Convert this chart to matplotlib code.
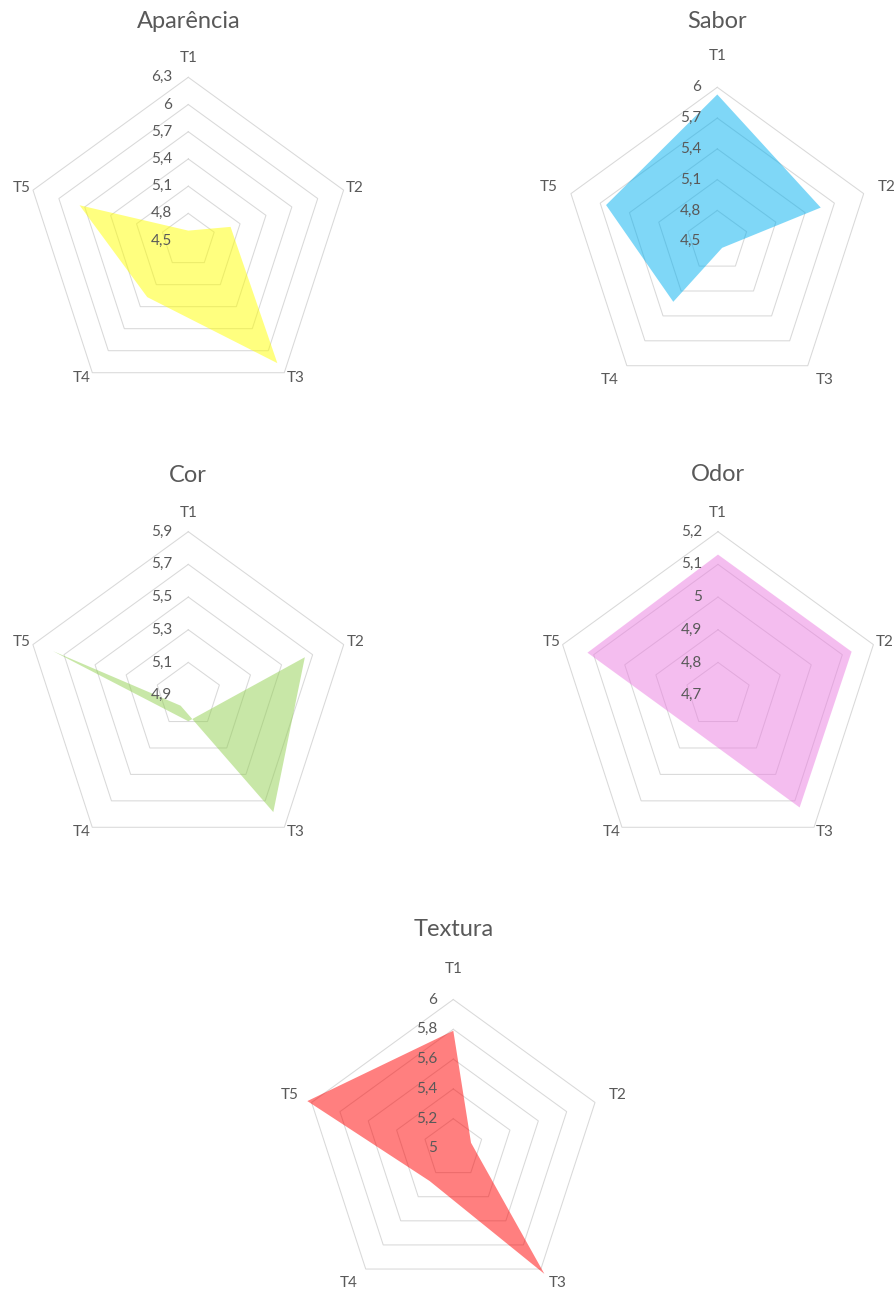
import numpy as np
import matplotlib
matplotlib.use('Agg')
import matplotlib.pyplot as plt

plt.rcParams['font.family'] = ['Lato', 'DejaVu Sans']

# tratamentos avaliados
categorias = ['T1', 'T2', 'T3', 'T4', 'T5']

# médias por atributo
aparencia = [4.61, 4.99, 6.17, 5.27, 5.76]
sabor = [5.93, 5.56, 4.58, 5.23, 5.64]
cor = [4.74, 5.65, 5.785, 4.98, 5.77]
odor = [5.13, 5.13, 5.125, 4.83, 5.12]
textura = [5.79, 5.125, 6.04, 5.27, 6.03]

# escala de cada gráfico: mínimo, máximo, passo
escala_aparencia = (4.5, 6.3, 0.3)
escala_sabor = (4.5, 6.0, 0.3)
escala_cor = (4.9, 5.9, 0.2)
escala_odor = (4.7, 5.2, 0.1)
escala_textura = (5.0, 6.0, 0.2)

W, H = 896, 1295
CINZA = '#595959'

# deslocamento dos rótulos T1..T5 em pixels (perto / longe)
desl_perto = [(0, -19), (11.5, -2.5), (11, 5), (-10.5, 5), (-11, -2.5)]
desl_longe = [(0, -31), (23, -7), (17, 14), (-17, 14), (-22, -7)]


def fmt(v):
    return ('%g' % round(v, 2)).replace('.', ',')


def radar(fig, titulo, valores, escala, cor_fill, cx, cy, R, ty, desl):
    vmin, vmax, passo = escala
    k = 1.35
    ax = fig.add_axes([(cx - R * k) / W, 1 - (cy + R * k) / H,
                       2 * R * k / W, 2 * R * k / H])
    ax.set_xlim(-k, k)
    ax.set_ylim(-k, k)
    ax.axis('off')

    ang = np.deg2rad(90 - 72 * np.arange(len(categorias)))
    fecha = np.r_[ang, ang[0]]
    niveis = np.arange(vmin, vmax + passo / 2, passo)

    # grade pentagonal
    for nv in niveis[1:]:
        r = (nv - vmin) / (vmax - vmin)
        ax.plot(r * np.cos(fecha), r * np.sin(fecha), color='#d9d9d9',
                lw=0.75, zorder=1)

    # área da série
    r = (np.array(valores) - vmin) / (vmax - vmin)
    ax.fill(r * np.cos(ang), r * np.sin(ang), color=cor_fill, alpha=0.5,
            lw=0, zorder=2)

    # rótulos da escala
    for nv in niveis:
        rr = (nv - vmin) / (vmax - vmin)
        ax.annotate(fmt(nv), (0, rr), xytext=(-16 * 0.72, 0),
                    textcoords='offset points', ha='right', va='center',
                    fontsize=11, color=CINZA, zorder=4)

    # rótulos das categorias
    for i, cat in enumerate(categorias):
        dx, dy = desl[i]
        ax.annotate(cat, (np.cos(ang[i]), np.sin(ang[i])),
                    xytext=(dx * 0.72, -dy * 0.72), textcoords='offset points',
                    ha='center', va='center', fontsize=11, color=CINZA)

    fig.text(cx / W, 1 - ty / H, titulo, ha='center', va='center',
             fontsize=17, color=CINZA)


fig = plt.figure(figsize=(W / 100, H / 100), dpi=100)

radar(fig, 'Aparência', aparencia, escala_aparencia, '#FFFF00',
      188.3, 240.6, 163.3, 22, desl_perto)
radar(fig, 'Sabor', sabor, escala_sabor, '#00B0F0',
      717.3, 241.2, 153.9, 22, desl_longe)
radar(fig, 'Cor', cor, escala_cor, '#92D050',
      188.3, 695.1, 163.4, 476, desl_perto)
radar(fig, 'Odor', odor, escala_odor, '#EB7DE1',
      718, 695.1, 163.4, 475, desl_perto)
radar(fig, 'Textura', textura, escala_textura, '#FF0000',
      453.3, 1148.5, 149, 930, desl_longe)

fig.savefig('out.png', dpi=100, facecolor='white')
